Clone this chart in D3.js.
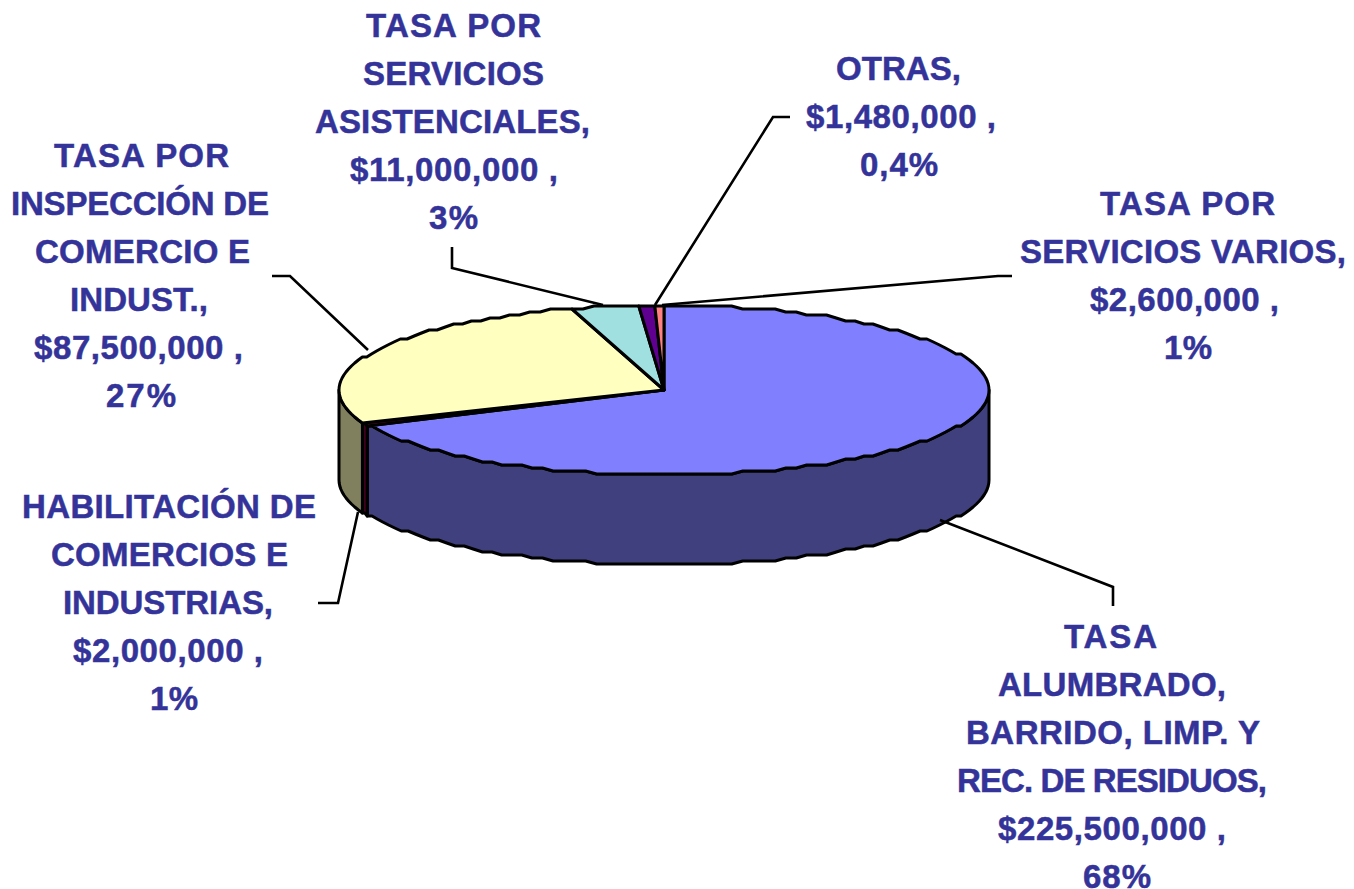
<!DOCTYPE html>
<html>
<head>
<meta charset="utf-8">
<script src="https://cdnjs.cloudflare.com/ajax/libs/d3/7.8.5/d3.min.js"></script>
<style>
    html, body { margin: 0; padding: 0; background: #fff; }
    text { font-family: "Liberation Sans", Arial, sans-serif; font-weight: bold; font-size: 33px; fill: #333399; stroke: #333399; stroke-width: 0.5px; text-anchor: middle; }
</style>
</head>
<body>
<div id="chart"></div>
<script>
// clockwise from 12 o'clock, same order as the source chart
const categories = [
    "TASA ALUMBRADO, BARRIDO, LIMP. Y REC. DE RESIDUOS",
    "HABILITACIÓN DE COMERCIOS E INDUSTRIAS",
    "TASA POR INSPECCIÓN DE COMERCIO E INDUST.",
    "TASA POR SERVICIOS ASISTENCIALES",
    "TASA POR SERVICIOS VARIOS",
    "OTRAS"
];
const values = [225500000, 2000000, 87500000, 11000000, 2600000, 1480000];
const labelLines = [
    ["TASA", "ALUMBRADO,", "BARRIDO, LIMP. Y", "REC. DE RESIDUOS,", "$225,500,000 ,", "68%"],
    ["HABILITACIÓN DE", "COMERCIOS E", "INDUSTRIAS,", "$2,000,000 ,", "1%"],
    ["TASA POR", "INSPECCIÓN DE", "COMERCIO E", "INDUST.,", "$87,500,000 ,", "27%"],
    ["TASA POR", "SERVICIOS", "ASISTENCIALES,", "$11,000,000 ,", "3%"],
    ["TASA POR", "SERVICIOS VARIOS,", "$2,600,000 ,", "1%"],
    ["OTRAS,", "$1,480,000 ,", "0,4%"]
];
const topColors = ["#8080ff", "#7f0040", "#ffffc0", "#a0e0e0", "#600090", "#ff8080"];
const sideColors = ["#40407f", "#400020", "#80805f", "#507070", "#300048", "#7f4040"];

const size = { width: 1354, height: 889 };
const pieBox = { cx: 664, cy: 390, rx: 325, ry: 85, depth: 90 };

// first baseline, leader line and left/right edge of every text line, page layout only
const labelLayout = [
    { y: 648, leader: [[940, 520], [1113, 587], [1113, 606]],
      extents: [[1064, 1157], [998, 1226], [966, 1260], [957, 1267], [998, 1226], [1083, 1151]] },
    { y: 518, leader: [[358, 512], [338, 603], [318, 603]],
      extents: [[22, 316], [51, 288], [63, 273], [73, 263], [150, 198]] },
    { y: 167, leader: [[368, 350], [290, 276], [272, 276]],
      extents: [[54, 229], [11, 269], [35, 250], [70, 208], [34, 243], [106, 176]] },
    { y: 37, leader: [[603, 305], [452, 268], [452, 247]],
      extents: [[366, 541], [363, 544], [315, 590], [350, 558], [429, 478]] },
    { y: 215, leader: [[662, 305], [998, 276], [1012, 276]],
      extents: [[1100, 1275], [1020, 1346], [1090, 1279], [1164, 1212]] },
    { y: 80, leader: [[655, 305], [773, 117], [790, 117]],
      extents: [[836, 961], [806, 996], [860, 938]] }
];
const lineStep = 48;

const xScale = d3.scaleLinear().domain([-1, 1]).range([pieBox.cx - pieBox.rx, pieBox.cx + pieBox.rx]);
const yScale = d3.scaleLinear().domain([-1, 1]).range([pieBox.cy - pieBox.ry, pieBox.cy + pieBox.ry]);

const slices = d3.pie().sort(null).value(d => d)(values);

// rim point, y snapped to a small grid to get the slightly stepped edge of the original
function rim(a) {
    const y = yScale(-Math.cos(a));
    return [xScale(Math.sin(a)), Math.round(y / 3) * 3];
}

function rimPoints(a0, a1) {
    const step = Math.PI / 90;
    const n = Math.max(1, Math.ceil((a1 - a0) / step));
    return d3.range(n + 1).map(i => rim(a0 + (a1 - a0) * i / n));
}

const line = d3.line();

const chart = d3.select("#chart").append("svg")
    .attr("width", size.width)
    .attr("height", size.height)
    .style("display", "block");

// walls: only the part of each slice on the front half of the ellipse
const walls = chart.append("g").attr("class", "walls");
slices.forEach((d, i) => {
    const a0 = Math.max(d.startAngle, Math.PI / 2);
    const a1 = Math.min(d.endAngle, Math.PI * 3 / 2);
    if (a1 <= a0) return;
    const upper = rimPoints(a0, a1);
    const lower = upper.map(p => [p[0], p[1] + pieBox.depth]).reverse();
    walls.append("path")
        .attr("d", line(upper.concat(lower)) + "Z")
        .attr("fill", sideColors[i])
        .attr("stroke", "#000")
        .attr("stroke-width", 3)
        .attr("stroke-linejoin", "round");
});

// top faces
chart.append("g").attr("class", "tops")
    .selectAll("path")
    .data(slices)
    .join("path")
    .attr("d", d => line([[pieBox.cx, pieBox.cy]].concat(rimPoints(d.startAngle, d.endAngle))) + "Z")
    .attr("fill", (d, i) => topColors[i])
    .attr("stroke", "#000")
    .attr("stroke-width", 3)
    .attr("stroke-linejoin", "round");

// leaders
chart.append("g").attr("class", "leaders")
    .selectAll("path")
    .data(labelLayout)
    .join("path")
    .attr("d", d => line(d.leader))
    .attr("fill", "none")
    .attr("stroke", "#000")
    .attr("stroke-width", 2.6);

// labels, one text per line so each can be fitted to the reference width
chart.append("g").attr("class", "labels")
    .selectAll("g")
    .data(labelLines)
    .join("g")
    .attr("aria-label", (d, i) => categories[i])
    .selectAll("text")
    .data((d, i) => d.map((t, j) => ({ t, j, box: labelLayout[i] })))
    .join("text")
    .attr("x", d => (d.box.extents[d.j][0] + d.box.extents[d.j][1]) / 2)
    .attr("y", d => d.box.y + d.j * lineStep)
    .attr("textLength", d => d.box.extents[d.j][1] - d.box.extents[d.j][0])
    .attr("lengthAdjust", "spacing")
    .text(d => d.t);
</script>
</body>
</html>
